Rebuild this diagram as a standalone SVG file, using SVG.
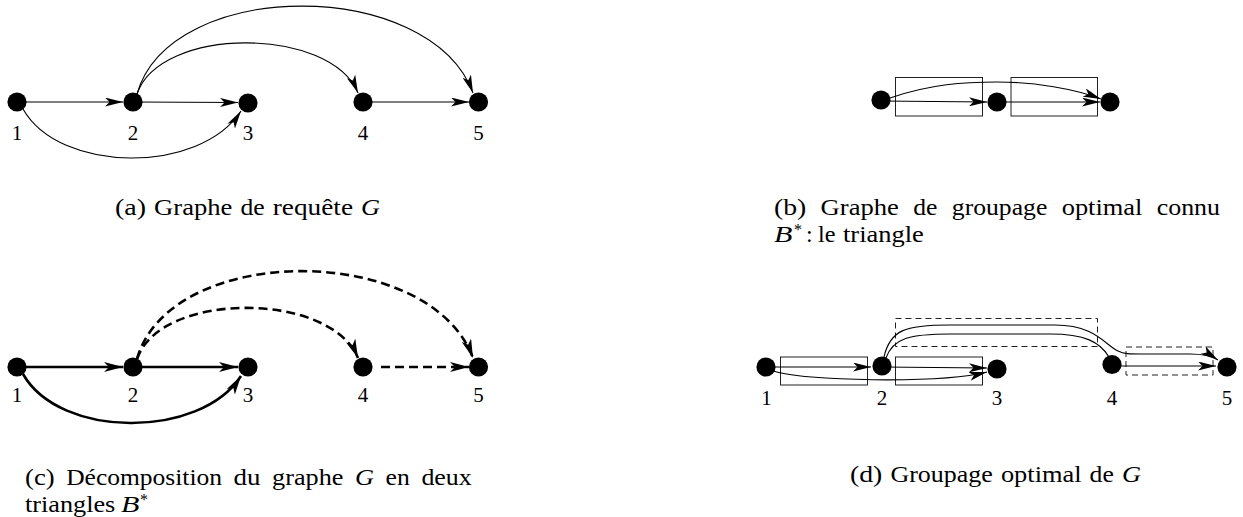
<svg xmlns="http://www.w3.org/2000/svg" width="1243" height="517" viewBox="0 0 1243 517">
<style>
.nd{fill:#000}
.lbl{font-family:"Liberation Serif","Times New Roman",serif;font-size:21px;fill:#000;text-anchor:middle}
.cap{font-family:"Liberation Serif","Times New Roman",serif;font-size:24px;fill:#000}
.it{font-style:italic}
.e{fill:none;stroke:#000;stroke-width:1.1}
.ek{fill:none;stroke:#000;stroke-width:2.6}
.dash{stroke-dasharray:9 5}
.box{fill:none;stroke:#222;stroke-width:1}
.dbox{fill:none;stroke:#222;stroke-width:1;stroke-dasharray:6 4}
</style>
<defs>
<marker id="ar" viewBox="0 0 18 9" refX="18" refY="4.5" markerWidth="18" markerHeight="9" markerUnits="userSpaceOnUse" orient="auto"><path d="M0,0 L18,4.5 L0,9 L4.5,4.5 z" fill="#000"/></marker>
<marker id="ark" viewBox="0 0 19 10" refX="19" refY="5" markerWidth="19" markerHeight="10" markerUnits="userSpaceOnUse" orient="auto"><path d="M0,0 L19,5 L0,10 L5,5 z" fill="#000"/></marker>
</defs>
<rect width="1243" height="517" fill="#fff"/>

<!-- (a) -->
<g id="a-edges">
<path class="e" d="M17,102 L123,102" marker-end="url(#ar)"/>
<path class="e" d="M133,102 L238,102.5" marker-end="url(#ar)"/>
<path class="e" d="M363,102 L469,102" marker-end="url(#ar)"/>
<path class="e" d="M23,109 C60,174 200,174 241,111" marker-end="url(#ar)"/>
<path class="e" d="M137,94 C160,26 330,26 358,93" marker-end="url(#ar)"/>
<path class="e" d="M137,94 C170,-23 430,-23 473,93" marker-end="url(#ar)"/>
</g>
<g id="a-n1"><circle class="nd" cx="17" cy="102" r="9.6"/><text class="lbl" x="17" y="140">1</text></g>
<g id="a-n2"><circle class="nd" cx="133" cy="102" r="9.6"/><text class="lbl" x="133" y="140">2</text></g>
<g id="a-n3"><circle class="nd" cx="248" cy="103" r="9.6"/><text class="lbl" x="248" y="140">3</text></g>
<g id="a-n4"><circle class="nd" cx="363" cy="102" r="9.6"/><text class="lbl" x="363" y="140">4</text></g>
<g id="a-n5"><circle class="nd" cx="478.5" cy="102" r="9.6"/><text class="lbl" x="478.5" y="140">5</text></g>
<text class="cap" y="215"><tspan x="115" textLength="31" lengthAdjust="spacingAndGlyphs">(a)</tspan><tspan x="154.1" textLength="78.3" lengthAdjust="spacingAndGlyphs">Graphe</tspan><tspan x="240.5" textLength="24.2" lengthAdjust="spacingAndGlyphs">de</tspan><tspan x="272.8" textLength="80.2" lengthAdjust="spacingAndGlyphs">requête</tspan><tspan class="it" x="361.1" textLength="19" lengthAdjust="spacingAndGlyphs">G</tspan></text>

<!-- (b) -->
<g id="b-boxes">
<rect class="box" x="895.5" y="77.5" width="87" height="38.5"/>
<rect class="box" x="1011" y="77.5" width="86.5" height="38.5"/>
</g>
<g id="b-edges">
<path class="e" d="M881,101 L987,102" marker-end="url(#ar)"/>
<path class="e" d="M997,102 L1100,102" marker-end="url(#ar)"/>
<path class="e" d="M890,98 C930,84 965,82 997,82 C1035,82 1075,89 1101,99" marker-end="url(#ar)"/>
</g>
<g id="b-n1"><circle class="nd" cx="881" cy="100" r="9.6"/></g>
<g id="b-n2"><circle class="nd" cx="997" cy="102" r="9.6"/></g>
<g id="b-n3"><circle class="nd" cx="1110" cy="102" r="9.6"/></g>
<text class="cap" y="215"><tspan x="774" textLength="32.3" lengthAdjust="spacingAndGlyphs">(b)</tspan><tspan x="820.6" textLength="78.3" lengthAdjust="spacingAndGlyphs">Graphe</tspan><tspan x="913.2" textLength="24.2" lengthAdjust="spacingAndGlyphs">de</tspan><tspan x="951.8" textLength="95.5" lengthAdjust="spacingAndGlyphs">groupage</tspan><tspan x="1061.7" textLength="80.7" lengthAdjust="spacingAndGlyphs">optimal</tspan><tspan x="1156.7" textLength="63.3" lengthAdjust="spacingAndGlyphs">connu</tspan></text>
<text class="cap" y="242"><tspan class="it" x="774" textLength="18.4" lengthAdjust="spacingAndGlyphs">B</tspan><tspan x="794" dy="-7" font-size="16">*</tspan><tspan x="806" dy="7">:</tspan><tspan x="818" textLength="17.5" lengthAdjust="spacingAndGlyphs">le</tspan><tspan x="843" textLength="80.8" lengthAdjust="spacingAndGlyphs">triangle</tspan></text>

<!-- (c) -->
<g id="c-edges">
<path class="ek" d="M17,367 L123,367" marker-end="url(#ark)"/>
<path class="ek" d="M133,367 L238,367" marker-end="url(#ark)"/>
<path class="ek" d="M23,374 C60,439 200,439 241,376" marker-end="url(#ark)"/>
<path class="ek dash" d="M381,367 L469,367" marker-end="url(#ark)"/>
<path class="ek dash" d="M137,359 C160,291 330,291 358,358" marker-end="url(#ark)"/>
<path class="ek dash" d="M137,359 C170,242 430,242 473,358" marker-end="url(#ark)"/>
</g>
<g id="c-n1"><circle class="nd" cx="17" cy="367" r="9.6"/><text class="lbl" x="17" y="402">1</text></g>
<g id="c-n2"><circle class="nd" cx="133" cy="367" r="9.6"/><text class="lbl" x="133" y="402">2</text></g>
<g id="c-n3"><circle class="nd" cx="248" cy="367" r="9.6"/><text class="lbl" x="248" y="402">3</text></g>
<g id="c-n4"><circle class="nd" cx="363" cy="367" r="9.6"/><text class="lbl" x="363" y="402">4</text></g>
<g id="c-n5"><circle class="nd" cx="478.5" cy="367" r="9.6"/><text class="lbl" x="478.5" y="402">5</text></g>
<text class="cap" y="485"><tspan x="25" textLength="29.6" lengthAdjust="spacingAndGlyphs">(c)</tspan><tspan x="66.2" textLength="155.8" lengthAdjust="spacingAndGlyphs">Décomposition</tspan><tspan x="233.6" textLength="26.9" lengthAdjust="spacingAndGlyphs">du</tspan><tspan x="272.1" textLength="71.3" lengthAdjust="spacingAndGlyphs">graphe</tspan><tspan class="it" x="355" textLength="19" lengthAdjust="spacingAndGlyphs">G</tspan><tspan x="385.6" textLength="24.2" lengthAdjust="spacingAndGlyphs">en</tspan><tspan x="421.4" textLength="50.4" lengthAdjust="spacingAndGlyphs">deux</tspan></text>
<text class="cap" y="511.5"><tspan x="25" textLength="90.3" lengthAdjust="spacingAndGlyphs">triangles</tspan><tspan class="it" x="121" textLength="18.4" lengthAdjust="spacingAndGlyphs">B</tspan><tspan x="140" dy="-7" font-size="16">*</tspan></text>

<!-- (d) -->
<g id="d-boxes">
<rect class="box" x="780.5" y="357" width="87" height="28"/>
<rect class="box" x="895.5" y="357" width="87" height="28"/>
<rect class="dbox" x="895.5" y="318.5" width="202" height="28"/>
<rect class="dbox" x="1126" y="347" width="87" height="28"/>
</g>
<g id="d-edges">
<path class="e" d="M766,367 L871,367" marker-end="url(#ar)"/>
<path class="e" d="M882,367 L987,368" marker-end="url(#ar)"/>
<path class="e" d="M1112,366 L1216,366" marker-end="url(#ar)"/>
<path class="e" d="M774,371 C800,381 940,384 987,372" marker-end="url(#ar)"/>
<path class="e" d="M886,358 C893,338 910,334 950,334 L1050,334 C1085,334 1100,342 1109,357"/>
<path class="e" d="M884,357 C890,330 905,325 950,325 L1055,325 C1095,325 1105,345 1118,351 C1124,354 1130,354 1140,354 L1190,354 C1205,354 1212,356 1218,360" marker-end="url(#ar)"/>
</g>
<g id="d-n1"><circle class="nd" cx="766" cy="367" r="9.6"/><text class="lbl" x="766.5" y="405">1</text></g>
<g id="d-n2"><circle class="nd" cx="882" cy="366" r="9.6"/><text class="lbl" x="882" y="405">2</text></g>
<g id="d-n3"><circle class="nd" cx="997" cy="369" r="9.6"/><text class="lbl" x="997" y="405">3</text></g>
<g id="d-n4"><circle class="nd" cx="1112" cy="364.5" r="9.6"/><text class="lbl" x="1112" y="405">4</text></g>
<g id="d-n5"><circle class="nd" cx="1227" cy="367" r="9.6"/><text class="lbl" x="1227" y="405">5</text></g>
<text class="cap" y="482"><tspan x="850" textLength="32.3" lengthAdjust="spacingAndGlyphs">(d)</tspan><tspan x="890.4" textLength="102.4" lengthAdjust="spacingAndGlyphs">Groupage</tspan><tspan x="1000.9" textLength="80.7" lengthAdjust="spacingAndGlyphs">optimal</tspan><tspan x="1089.6" textLength="24.2" lengthAdjust="spacingAndGlyphs">de</tspan><tspan class="it" x="1121.9" textLength="19" lengthAdjust="spacingAndGlyphs">G</tspan></text>
</svg>
